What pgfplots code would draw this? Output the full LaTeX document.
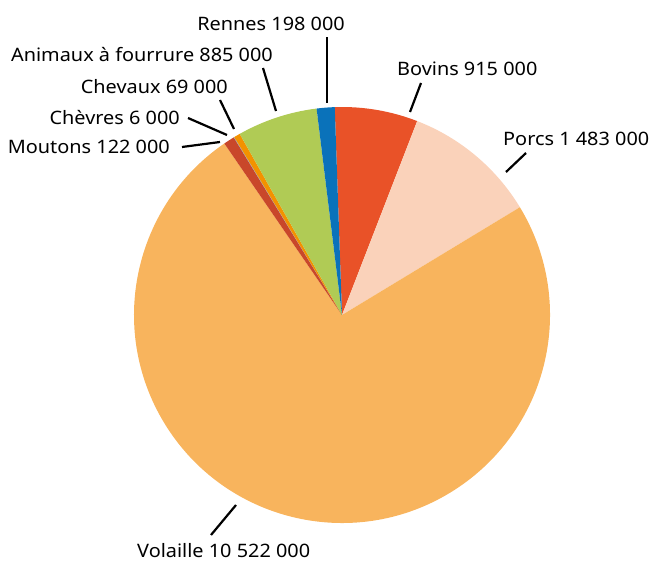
\documentclass[border=0pt]{standalone}
\usepackage{pgfplots}
\usepackage{pgfplotstable}
\pgfplotsset{compat=1.18}
\usepackage{fontspec}
\setmainfont{Noto Sans}[FakeStretch=1.075]

\definecolor{cbov}{HTML}{E95228}
\definecolor{cpor}{HTML}{FAD2BA}
\definecolor{cvol}{HTML}{F8B45D}
\definecolor{cmou}{HTML}{C9472A}
\definecolor{cche}{HTML}{8A9BB5}
\definecolor{cchv}{HTML}{F39200}
\definecolor{cani}{HTML}{B0CB55}
\definecolor{cren}{HTML}{0A72BA}

% values, slice colour, label position (baseline) and leader line, in picture pixels
\pgfplotstableread[col sep=comma]{
name,value,color,lx,ly,an,ax,ay,bx,by
Bovins,915000,cbov,397,76,base west,410,112,421,83
Porcs,1483000,cpor,503,146,base west,506,172,526,153
Volaille,10522000,cvol,137,557,base west,236,505,211,535
Moutons,122000,cmou,170,154,base east,220,142,182,147
Chèvres,6000,cche,180,125,base east,227,135,188,118
Chevaux,69000,cchv,228,94,base east,234,129,220,100
Animaux à fourrure,885000,cani,273,62,base east,276,111,263,68
Rennes,198000,cren,345,31,base east,327,103,327,37
}\pietable

\pgfplotstablegetrowsof{\pietable}
\pgfmathtruncatemacro{\lastrow}{\pgfplotsretval-1}
\def\total{0}
\pgfplotstableforeachcolumnelement{value}\of\pietable\as\v{\xdef\total{\fpeval{\total+\v}}}

\begin{document}
\begin{tikzpicture}
\begin{axis}[
    hide axis,
    x=1pt, y=1pt,
    xmin=0, xmax=654, ymin=0, ymax=561,
    y dir=reverse,
    clip=false,
]
\path (axis cs:0,0) rectangle (axis cs:654,561);
\pgfplotsextra{
  \xdef\cura{92}
  \foreach \i in {0,...,\lastrow}{
    \pgfplotstablegetelem{\i}{value}\of\pietable \let\v\pgfplotsretval
    \pgfplotstablegetelem{\i}{color}\of\pietable \let\c\pgfplotsretval
    \edef\b{\fpeval{\cura-360*\v/\total}}
    \fill[fill=\c] (axis cs:342,315) -- ++(\cura:208pt)
      arc[start angle=\cura, end angle=\b, radius=208pt] -- cycle;
    \xdef\cura{\b}
  }
  \foreach \i in {0,...,\lastrow}{
    \pgfplotstablegetelem{\i}{name}\of\pietable \let\n\pgfplotsretval
    \pgfplotstablegetelem{\i}{value}\of\pietable \let\v\pgfplotsretval
    \pgfplotstablegetelem{\i}{lx}\of\pietable \let\lx\pgfplotsretval
    \pgfplotstablegetelem{\i}{ly}\of\pietable \let\ly\pgfplotsretval
    \pgfplotstablegetelem{\i}{an}\of\pietable \let\an\pgfplotsretval
    \pgfplotstablegetelem{\i}{ax}\of\pietable \let\ax\pgfplotsretval
    \pgfplotstablegetelem{\i}{ay}\of\pietable \let\ay\pgfplotsretval
    \pgfplotstablegetelem{\i}{bx}\of\pietable \let\bx\pgfplotsretval
    \pgfplotstablegetelem{\i}{by}\of\pietable \let\by\pgfplotsretval
    \draw[line width=2.2pt] (axis cs:\ax,\ay) -- (axis cs:\bx,\by);
    \node[anchor=\an, inner sep=0pt, font=\fontsize{18.5}{22}\selectfont]
      at (axis cs:\lx,\ly) {\n\ \pgfmathprintnumber[fixed, precision=0,
        1000 sep={\ }, assume math mode=true]{\v}};
  }
}
\end{axis}
\end{tikzpicture}
\end{document}
